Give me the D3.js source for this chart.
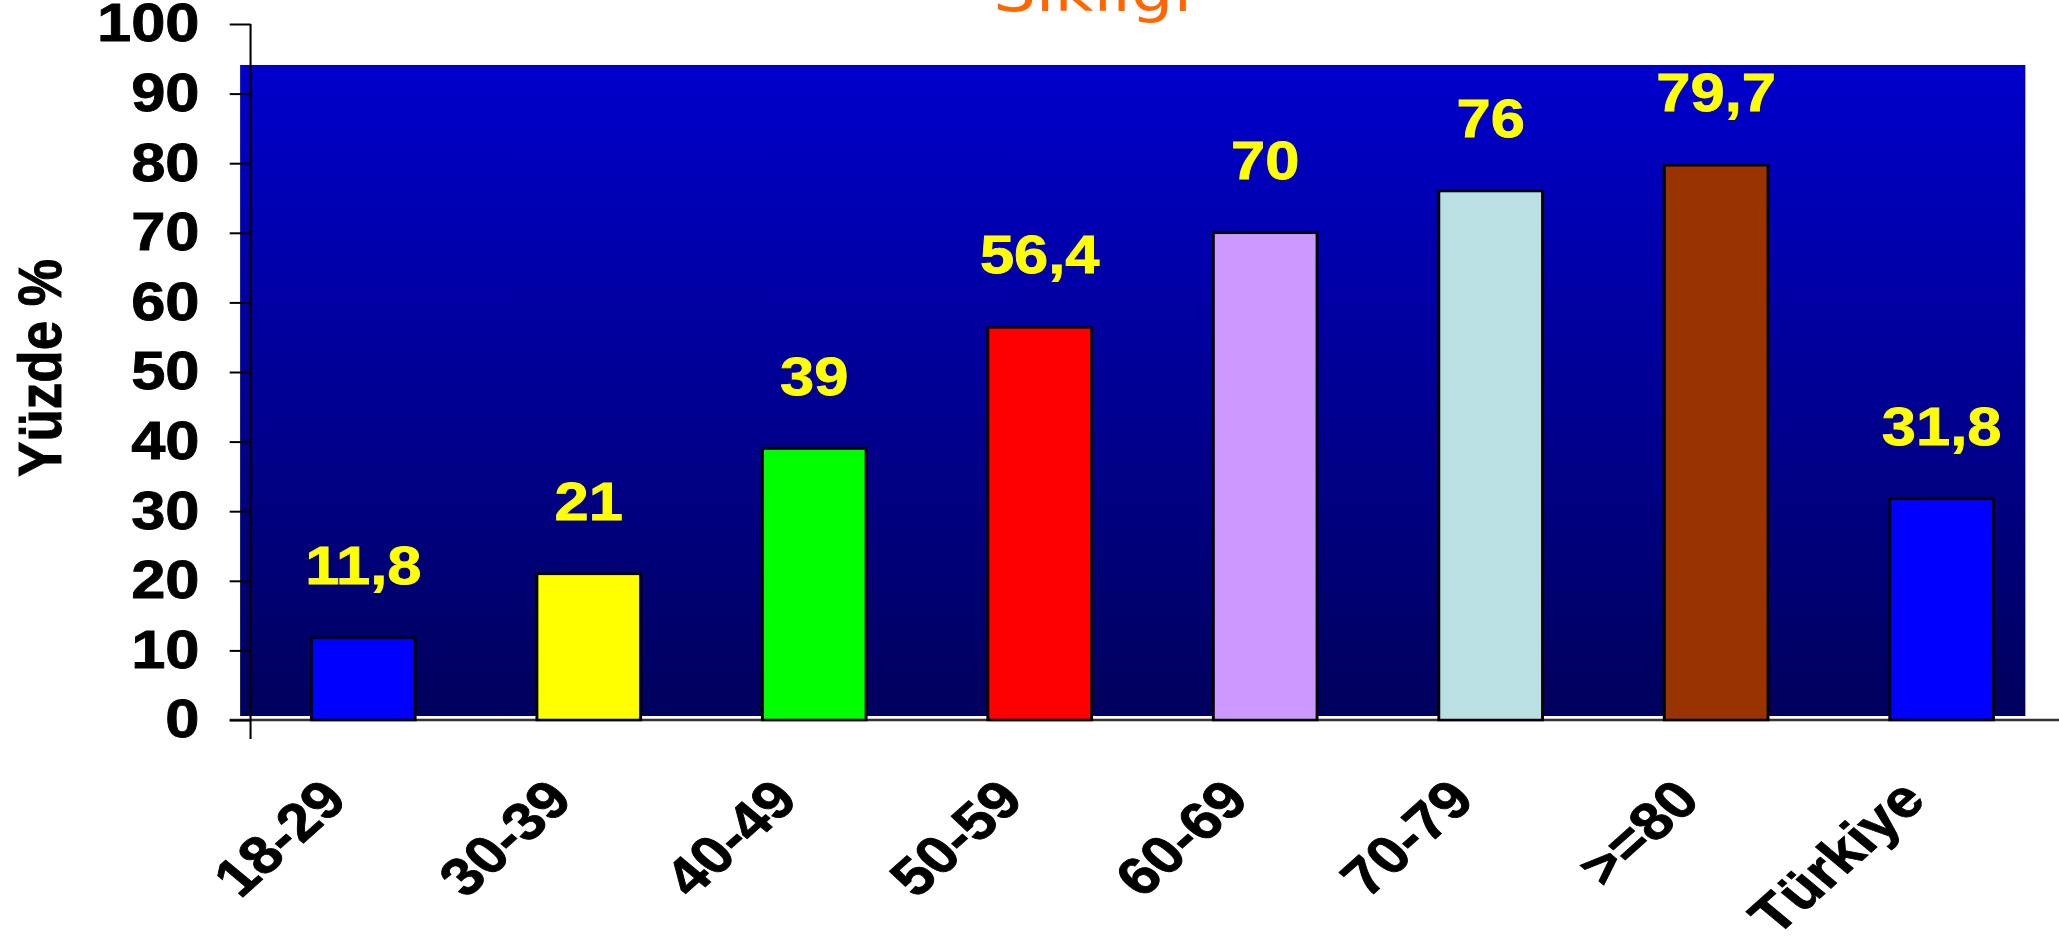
<!DOCTYPE html>
<html>
<head>
<meta charset="utf-8">
<script src="https://cdn.jsdelivr.net/npm/d3@7"></script>
<style>
  html, body {
    margin: 0;
    padding: 0;
    background: #fff;
    overflow: hidden;
  }
  .chart text {
    font-family: Arial, "Liberation Sans", sans-serif;
    font-weight: bold;
  }
  .title {
    font-family: "Comic Sans MS", "DejaVu Sans", sans-serif !important;
    font-weight: normal !important;
  }
</style>
</head>
<body>
<div id="chart"></div>
<script>
var categories = ["18-29", "30-39", "40-49", "50-59", "60-69", "70-79", ">=80", "Türkiye"];
var values = [11.8, 21, 39, 56.4, 70, 76, 79.7, 31.8];
var barColors = ["#0000ff", "#ffff00", "#00ff00", "#ff0000", "#cc99ff", "#bbe0e3", "#993300", "#0000ff"];
var yTicks = [0, 10, 20, 30, 40, 50, 60, 70, 80, 90, 100];
var yTitle = "Yüzde %";
var titleText = "Sıklığı";

var width = 2059,
    height = 937,
    stretch = 1.16,            // the slide is drawn a bit wider than tall
    vbWidth = width / stretch,
    fontSize = 53,
    heavy = 0.8;               // thin outline so the bold text looks as heavy as the slide's

var svg = d3.select("#chart").append("svg")
    .attr("class", "chart")
    .attr("width", width)
    .attr("height", height)
    .attr("viewBox", "0 0 " + vbWidth + " " + height)
    .attr("preserveAspectRatio", "none");

var x = d3.scaleBand()
    .domain(categories)
    .range([216, 1771])
    .paddingInner(0.54)
    .paddingOuter(0.27);

var y = d3.scaleLinear()
    .domain([0, 100])
    .range([720, 24]);

// gradient plot background
var grad = svg.append("defs").append("linearGradient")
    .attr("id", "bg")
    .attr("x1", 0).attr("y1", 0)
    .attr("x2", 0).attr("y2", 1);
grad.append("stop").attr("offset", "0%").attr("stop-color", "#0000cc");
grad.append("stop").attr("offset", "100%").attr("stop-color", "#00005c");

svg.append("rect")
    .attr("x", 207)
    .attr("y", 65)
    .attr("width", 1539)
    .attr("height", 651)
    .attr("fill", "url(#bg)");

// title, mostly cut off at the top
svg.append("text")
    .attr("class", "title")
    .attr("x", 942)
    .attr("y", 11)
    .attr("text-anchor", "middle")
    .attr("fill", "#ff6600")
    .style("font-size", "58px")
    .text(titleText);

// x axis line
svg.append("line")
    .attr("x1", 198)
    .attr("x2", vbWidth)
    .attr("y1", y(0))
    .attr("y2", y(0))
    .attr("stroke", "#333")
    .attr("stroke-width", 2.5);

// bars
svg.selectAll(".bar")
    .data(values)
    .enter().append("rect")
    .attr("class", "bar")
    .attr("x", function(d, i) { return x(categories[i]); })
    .attr("y", function(d) { return y(d); })
    .attr("width", x.bandwidth())
    .attr("height", function(d) { return y(0) - y(d); })
    .attr("fill", function(d, i) { return barColors[i]; })
    .attr("stroke", "#000")
    .attr("stroke-width", 2.5);

// value labels
svg.selectAll(".value")
    .data(values)
    .enter().append("text")
    .attr("class", "value")
    .attr("x", function(d, i) { return x(categories[i]) + x.bandwidth() / 2; })
    .attr("y", function(d) { return y(d) - 54; })
    .attr("text-anchor", "middle")
    .attr("fill", "#ffff00")
    .attr("stroke", "#ffff00")
    .attr("stroke-width", heavy)
    .style("font-size", fontSize + "px")
    .text(function(d) { return String(d).replace(".", ","); });

// y axis
var yAxis = d3.axisLeft(y)
    .tickValues(yTicks)
    .tickSize(18)
    .tickSizeOuter(0)
    .tickPadding(26);

var yG = svg.append("g")
    .attr("transform", "translate(216,0)")
    .call(yAxis);

yG.select(".domain").remove();
yG.selectAll(".tick line").attr("stroke", "#000").attr("stroke-width", 2);
yG.selectAll(".tick text")
    .attr("fill", "#000")
    .attr("stroke", "#000")
    .attr("stroke-width", heavy)
    .style("font-size", fontSize + "px");

yG.append("line")
    .attr("x1", 0).attr("x2", 0)
    .attr("y1", y(100))
    .attr("y2", 739)
    .attr("stroke", "#000")
    .attr("stroke-width", 1.8);

// x axis labels
var xAxis = d3.axisBottom(x).tickSize(0);

var xG = svg.append("g")
    .attr("transform", "translate(0," + y(0) + ")")
    .call(xAxis);

xG.select(".domain").remove();
xG.selectAll(".tick text")
    .attr("x", 0)
    .attr("y", 0)
    .attr("dy", 0)
    .attr("text-anchor", "end")
    .attr("fill", "#000")
    .attr("stroke", "#000")
    .attr("stroke-width", heavy)
    .attr("transform", "translate(-12,82) rotate(-46)")
    .style("font-size", fontSize + "px");

// y title
svg.append("text")
    .attr("transform", "translate(52.6,368) rotate(-90)")
    .attr("text-anchor", "middle")
    .attr("fill", "#000")
    .attr("stroke", "#000")
    .attr("stroke-width", heavy)
    .style("font-size", fontSize + "px")
    .text(yTitle);
</script>
</body>
</html>
